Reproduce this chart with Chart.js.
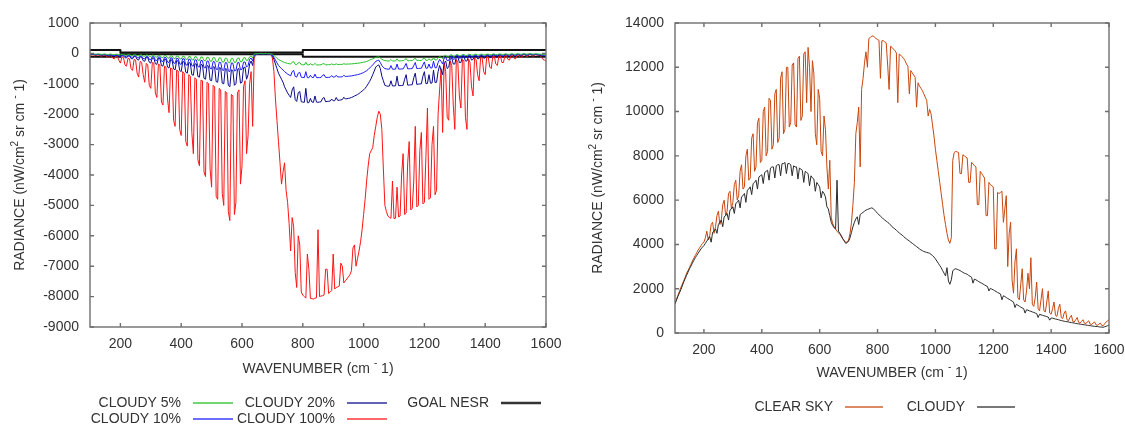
<!DOCTYPE html>
<html>
<head>
<meta charset="utf-8">
<script src="https://cdn.jsdelivr.net/npm/chart.js@4.4.1/dist/chart.umd.min.js"></script>
<style>
  html, body { margin: 0; padding: 0; background: #ffffff; }
  #wrap { position: relative; width: 1125px; height: 426px; overflow: hidden; background: #ffffff; }
  canvas { position: absolute; top: 0; }
  #diffChart { left: 0; }
  #skyChart { left: 560px; }
</style>
</head>
<body>
<div id="wrap">
  <canvas id="diffChart" width="575" height="426"></canvas>
  <canvas id="skyChart" width="565" height="426"></canvas>
</div>
<script>
// ---- spectral grid (cm^-1), 5 cm^-1 spacing ----
const wavenumbers = [
  100, 105, 110, 115, 120, 125, 130, 135, 140, 145,
  150, 155, 160, 165, 170, 175, 180, 185, 190, 195,
  200, 205, 210, 215, 220, 225, 230, 235, 240, 245,
  250, 255, 260, 265, 270, 275, 280, 285, 290, 295,
  300, 305, 310, 315, 320, 325, 330, 335, 340, 345,
  350, 355, 360, 365, 370, 375, 380, 385, 390, 395,
  400, 405, 410, 415, 420, 425, 430, 435, 440, 445,
  450, 455, 460, 465, 470, 475, 480, 485, 490, 495,
  500, 505, 510, 515, 520, 525, 530, 535, 540, 545,
  550, 555, 560, 565, 570, 575, 580, 585, 590, 595,
  600, 605, 610, 615, 620, 625, 630, 635, 640, 645,
  650, 655, 660, 665, 670, 675, 680, 685, 690, 695,
  700, 705, 710, 715, 720, 725, 730, 735, 740, 745,
  750, 755, 760, 765, 770, 775, 780, 785, 790, 795,
  800, 805, 810, 815, 820, 825, 830, 835, 840, 845,
  850, 855, 860, 865, 870, 875, 880, 885, 890, 895,
  900, 905, 910, 915, 920, 925, 930, 935, 940, 945,
  950, 955, 960, 965, 970, 975, 980, 985, 990, 995,
  1000, 1005, 1010, 1015, 1020, 1025, 1030, 1035, 1040, 1045,
  1050, 1055, 1060, 1065, 1070, 1075, 1080, 1085, 1090, 1095,
  1100, 1105, 1110, 1115, 1120, 1125, 1130, 1135, 1140, 1145,
  1150, 1155, 1160, 1165, 1170, 1175, 1180, 1185, 1190, 1195,
  1200, 1205, 1210, 1215, 1220, 1225, 1230, 1235, 1240, 1245,
  1250, 1255, 1260, 1265, 1270, 1275, 1280, 1285, 1290, 1295,
  1300, 1305, 1310, 1315, 1320, 1325, 1330, 1335, 1340, 1345,
  1350, 1355, 1360, 1365, 1370, 1375, 1380, 1385, 1390, 1395,
  1400, 1405, 1410, 1415, 1420, 1425, 1430, 1435, 1440, 1445,
  1450, 1455, 1460, 1465, 1470, 1475, 1480, 1485, 1490, 1495,
  1500, 1505, 1510, 1515, 1520, 1525, 1530, 1535, 1540, 1545,
  1550, 1555, 1560, 1565, 1570, 1575, 1580, 1585, 1590, 1595,
  1600
];

// ---- radiance differences, cloudy minus clear (nW/cm2 sr cm-1) ----
const cloudy5 = [
  -20, -15, -15, -22, -25, -18, -20, -28, -30, -22,
  -20, -32, -35, -22, -25, -38, -40, -28, -30, -45,
  -50, -32, -35, -55, -60, -38, -40, -65, -70, -42,
  -45, -75, -80, -48, -50, -88, -95, -52, -55, -100,
  -110, -58, -60, -118, -125, -62, -65, -132, -140, -70,
  -75, -148, -155, -78, -80, -162, -170, -85, -90, -178,
  -185, -92, -95, -192, -200, -100, -105, -208, -215, -108,
  -110, -222, -230, -115, -120, -238, -245, -125, -130, -252,
  -260, -135, -140, -268, -275, -145, -150, -282, -290, -155,
  -160, -300, -310, -162, -165, -300, -290, -155, -150, -280,
  -270, -145, -140, -240, -210, -110, -80, -150, -20, -12,
  -10, -8, -5, -8, -10, -8, -5, -8, -10, -15,
  -30, -70, -110, -160, -200, -230, -250, -280, -300, -315,
  -330, -340, -350, -290, -270, -360, -370, -310, -300, -372,
  -375, -378, -290, -380, -380, -340, -375, -376, -330, -378,
  -380, -378, -375, -345, -340, -375, -375, -372, -370, -345,
  -370, -368, -345, -366, -365, -362, -360, -340, -355, -352,
  -350, -348, -345, -340, -335, -330, -325, -318, -310, -300,
  -290, -280, -265, -245, -220, -200, -180, -155, -130, -120,
  -110, -150, -190, -220, -240, -245, -250, -248, -200, -250,
  -250, -248, -180, -246, -245, -243, -240, -205, -170, -242,
  -240, -238, -235, -195, -160, -233, -230, -231, -230, -185,
  -150, -228, -225, -180, -220, -218, -140, -216, -215, -150,
  -100, -130, -170, -80, -60, -120, -110, -50, -45, -100,
  -90, -42, -40, -80, -75, -38, -35, -70, -65, -32,
  -30, -60, -55, -30, -30, -52, -50, -28, -25, -48,
  -45, -25, -25, -42, -40, -22, -20, -38, -35, -20,
  -20, -32, -30, -20, -20, -32, -30, -18, -15, -28,
  -25, -15, -15, -26, -25, -15, -15, -22, -20, -15,
  -15, -20, -20, -16, -15, -22, -25, -28, -30, -32,
  -35
];
const cloudy10 = [
  -30, -25, -25, -35, -40, -30, -30, -40, -45, -35,
  -35, -50, -60, -40, -40, -65, -70, -45, -50, -80,
  -90, -55, -60, -100, -110, -65, -70, -120, -130, -75,
  -80, -140, -150, -85, -90, -165, -180, -95, -100, -195,
  -210, -105, -110, -225, -240, -115, -120, -255, -270, -130,
  -140, -285, -300, -145, -150, -315, -330, -160, -170, -345,
  -360, -175, -180, -375, -390, -190, -200, -405, -420, -210,
  -220, -435, -450, -230, -240, -465, -480, -250, -260, -495,
  -510, -270, -280, -520, -530, -290, -300, -545, -560, -305,
  -310, -580, -600, -315, -320, -580, -560, -310, -300, -540,
  -520, -290, -280, -450, -400, -200, -150, -250, -40, -20,
  -15, -10, -10, -12, -15, -12, -10, -12, -15, -25,
  -60, -130, -220, -310, -400, -450, -500, -550, -600, -640,
  -680, -710, -740, -600, -560, -760, -780, -650, -620, -785,
  -790, -795, -600, -800, -800, -720, -790, -795, -680, -795,
  -800, -795, -790, -720, -700, -790, -790, -788, -785, -730,
  -780, -778, -720, -776, -775, -772, -770, -720, -760, -755,
  -750, -745, -740, -730, -720, -710, -700, -685, -670, -650,
  -630, -600, -570, -530, -480, -430, -380, -320, -260, -240,
  -220, -300, -400, -460, -500, -510, -520, -518, -400, -520,
  -520, -518, -350, -515, -515, -512, -510, -420, -330, -508,
  -505, -502, -500, -400, -300, -498, -495, -492, -490, -380,
  -280, -488, -485, -350, -480, -478, -260, -472, -470, -300,
  -200, -260, -350, -150, -120, -240, -230, -100, -80, -200,
  -180, -70, -65, -160, -150, -65, -60, -140, -130, -55,
  -55, -120, -110, -50, -50, -105, -100, -45, -45, -95,
  -90, -40, -40, -85, -80, -35, -35, -75, -70, -35,
  -35, -65, -60, -30, -30, -58, -55, -30, -30, -52,
  -50, -30, -30, -48, -45, -25, -25, -42, -40, -25,
  -25, -35, -35, -30, -30, -38, -40, -45, -50, -55,
  -60
];
const cloudy20 = [
  -40, -35, -30, -45, -50, -40, -40, -55, -60, -45,
  -50, -70, -80, -55, -60, -85, -90, -65, -70, -100,
  -120, -75, -80, -140, -150, -85, -90, -170, -180, -95,
  -100, -200, -220, -110, -120, -240, -260, -130, -140, -290,
  -320, -150, -150, -340, -360, -160, -170, -400, -420, -190,
  -200, -450, -480, -210, -220, -510, -540, -240, -250, -560,
  -600, -270, -280, -620, -650, -300, -320, -700, -720, -340,
  -350, -760, -780, -360, -380, -820, -850, -400, -420, -880,
  -900, -440, -450, -930, -950, -470, -480, -980, -1000, -500,
  -520, -1050, -1100, -540, -560, -1050, -1000, -520, -500, -980,
  -950, -470, -450, -850, -700, -350, -250, -400, -60, -30,
  -20, -15, -10, -15, -20, -15, -10, -15, -20, -30,
  -80, -200, -350, -500, -650, -750, -850, -950, -1100, -1200,
  -1300, -1380, -1450, -1200, -1100, -1520, -1580, -1300, -1250, -1590,
  -1600, -1610, -1150, -1620, -1620, -1480, -1600, -1610, -1400, -1600,
  -1610, -1600, -1590, -1480, -1450, -1590, -1580, -1575, -1570, -1500,
  -1560, -1555, -1450, -1545, -1540, -1530, -1520, -1440, -1500, -1490,
  -1480, -1470, -1450, -1430, -1400, -1380, -1350, -1320, -1280, -1240,
  -1200, -1150, -1080, -1000, -920, -820, -700, -580, -450, -400,
  -380, -500, -750, -900, -1050, -1070, -1080, -1075, -900, -1070,
  -1070, -1065, -750, -1060, -1060, -1055, -1050, -850, -700, -1045,
  -1040, -1035, -1030, -800, -650, -1020, -1010, -1005, -1000, -750,
  -600, -995, -990, -700, -980, -975, -550, -960, -950, -600,
  -400, -550, -700, -300, -250, -500, -450, -180, -150, -350,
  -350, -120, -110, -300, -300, -110, -100, -250, -250, -90,
  -90, -220, -200, -80, -80, -180, -170, -70, -70, -160,
  -150, -60, -60, -140, -130, -55, -50, -120, -120, -50,
  -50, -110, -100, -45, -40, -95, -90, -40, -40, -85,
  -80, -40, -40, -75, -70, -30, -30, -65, -60, -30,
  -30, -55, -50, -35, -40, -55, -60, -70, -80, -85,
  -90
];
const cloudy100 = [
  -50, -60, -40, -80, -70, -50, -60, -90, -80, -60,
  -60, -110, -130, -70, -80, -160, -180, -90, -100, -220,
  -320, -120, -130, -380, -420, -160, -180, -500, -560, -200,
  -220, -650, -780, -260, -300, -700, -950, -330, -380, -1050,
  -1150, -300, -320, -1300, -1450, -350, -380, -1600, -1700, -420,
  -450, -1500, -1950, -480, -500, -2200, -2400, -550, -580, -2500,
  -2700, -600, -650, -2900, -3050, -700, -750, -2600, -3300, -800,
  -850, -3500, -3700, -880, -900, -3900, -4050, -950, -1000, -3800,
  -4400, -1050, -1100, -4700, -4800, -1150, -1200, -4600, -5000, -1250,
  -1300, -5200, -5500, -1350, -1400, -5300, -4900, -1300, -1200, -4300,
  -3700, -1100, -900, -3300, -2700, -1000, -600, -2400, -150, -60,
  -20, -10, 0, 10, -10, 0, 0, -10, -20, -30,
  -150, -600, -1500, -2200, -2900, -3600, -4300, -3900, -3600, -4500,
  -4900, -5600, -6500, -5400, -5700, -7200, -7700, -6000, -6300, -7850,
  -7950, -8000, -8050, -6600, -7100, -8060, -8070, -8080, -8050, -8040,
  -5800, -8000, -7980, -7970, -7950, -7100, -7100, -7900, -7850, -7800,
  -6600, -7750, -7700, -7680, -7650, -6900, -7000, -7550, -7480, -7420,
  -7350, -7280, -7150, -6400, -6300, -7000, -6750, -6500, -6200, -5800,
  -5300, -4800, -4200, -3700, -3300, -3200, -3100, -2700, -2400, -2100,
  -1900, -2000, -2500, -3800, -5000, -5200, -5350, -5400, -5420, -4200,
  -5440, -5420, -4400, -5380, -5350, -4000, -3300, -5300, -5250, -3600,
  -2900, -5150, -5100, -4200, -2400, -5050, -5000, -3200, -2600, -4950,
  -4900, -3400, -1800, -4800, -4750, -3000, -2400, -4650, -4500, -2000,
  -1200, -500, -2600, -300, -600, -2100, -2200, -250, -400, -1700,
  -2500, -200, -300, -1400, -1800, -200, -250, -2100, -2500, -180,
  -300, -1100, -1400, -150, -200, -700, -900, -120, -150, -600,
  -700, -100, -120, -450, -500, -90, -100, -350, -400, -80,
  -80, -300, -300, -70, -70, -200, -220, -60, -60, -160,
  -180, -50, -50, -130, -120, -40, -40, -100, -100, -40,
  -40, -90, -80, -40, -50, -60, -60, -120, -200, -220,
  -250
];

// ---- instrument noise goal, drawn as a +/- envelope ----
const nesrWavenumbers = [100, 200, 200, 800, 800, 1600];
const goalNesr = [110, 110, 30, 30, 110, 110];

// ---- absolute radiance (nW/cm2 sr cm-1) ----
const clearSky = [
  1350, 1520, 1700, 1870, 2050, 2200, 2350, 2520, 2700, 2820,
  2950, 3100, 3250, 3380, 3500, 3620, 3750, 3850, 3950, 4050,
  4100, 4300, 4600, 4200, 4400, 4900, 5000, 4500, 4800, 5300,
  5500, 4900, 5100, 5800, 6000, 5300, 5500, 6300, 6400, 5600,
  5900, 6700, 6900, 6000, 6200, 7300, 7600, 6500, 6600, 8000,
  8300, 6900, 7000, 8800, 9000, 7300, 7500, 9500, 9700, 7700,
  7800, 10000, 10200, 8000, 8200, 10600, 10500, 8300, 8500, 10800,
  11000, 8600, 8800, 11500, 11800, 9000, 9200, 12000, 12000, 9300,
  9500, 12100, 12200, 9400, 9300, 12400, 12500, 9600, 9800, 12600,
  12700, 10400, 12900, 12000, 10000, 12300, 11700, 9000, 8500, 11000,
  10600, 8200, 8000, 9800, 9200, 7500, 6500, 7800, 5200, 4950,
  4800, 4700, 4600, 4520, 4450, 4350, 4250, 4180, 4100, 4100,
  4200, 4500, 5000, 5800, 6800, 9000, 9500, 10200, 7500, 11000,
  11500, 12200, 12700, 12000, 13300, 13350, 13400, 13420, 13350, 13300,
  13250, 13220, 11500, 13200, 13200, 13150, 13100, 12100, 11000, 12950,
  12900, 12820, 12750, 12650, 10400, 12600, 12550, 12480, 12400, 12300,
  12150, 12050, 10800, 11850, 11750, 11650, 11550, 10200, 11300, 11150,
  11050, 10950, 10800, 10650, 10500, 9800, 10100, 9900, 9400, 8900,
  8300, 7800, 7300, 6800, 6300, 5800, 5300, 4900, 4500, 4200,
  4050, 4300, 7800, 8150, 8200, 8180, 8150, 7200, 7200, 8050,
  8000, 7950, 7900, 6800, 6800, 7700, 7650, 7550, 7500, 5800,
  5800, 7300, 7200, 7100, 7000, 5300, 5300, 6800, 6700, 6650,
  6600, 3800, 3800, 6350, 6300, 6350, 6400, 5000, 5600, 6200,
  3000, 4500, 5000, 2400, 1800, 3200, 3800, 1600, 1500, 2200,
  2900, 1500, 1400, 1900, 2700, 2000, 3400, 1300, 1200, 1600,
  2300, 1100, 1000, 1500, 2000, 1000, 950, 1400, 1900, 900,
  850, 1100, 1400, 800, 750, 1100, 1300, 700, 650, 900,
  1000, 600, 550, 700, 800, 520, 500, 600, 700, 480,
  450, 520, 600, 440, 420, 500, 550, 400, 380, 450,
  500, 370, 350, 400, 450, 340, 330, 420, 500, 550,
  600
];
const cloudySky = [
  1300, 1480, 1650, 1800, 1950, 2120, 2300, 2450, 2600, 2750,
  2900, 3020, 3150, 3280, 3400, 3500, 3600, 3700, 3800, 3880,
  3950, 4050, 4150, 4250, 4350, 4100, 4550, 4600, 4700, 4500,
  4900, 5000, 5100, 4800, 5250, 5300, 5400, 5100, 5550, 5600,
  5700, 5400, 5850, 5900, 6000, 5650, 6150, 6200, 6300, 5900,
  6450, 6500, 6600, 6250, 6750, 6800, 6900, 6500, 7050, 7100,
  7150, 6750, 7250, 7300, 7350, 6900, 7450, 7500, 7500, 7000,
  7550, 7600, 7600, 7100, 7650, 7650, 7700, 7200, 7650, 7650,
  7600, 7100, 7550, 7500, 7500, 6950, 7450, 7400, 7350, 6800,
  7300, 7250, 7200, 6650, 7100, 7000, 6950, 6400, 6800, 6700,
  6600, 6100, 6400, 6300, 6150, 5700, 5600, 5300, 5000, 4850,
  4750, 4700, 6900, 4600, 4500, 4400, 4250, 4150, 4050, 4080,
  4150, 4300, 4550, 4800, 5000, 5150, 5250, 4900, 5350, 5400,
  5450, 5500, 5550, 5580, 5600, 5630, 5650, 5620, 5550, 5480,
  5400, 5340, 5280, 5220, 5150, 5100, 5050, 5000, 4950, 4880,
  4800, 4750, 4700, 4640, 4580, 4520, 4470, 4420, 4360, 4300,
  4250, 4200, 4150, 4100, 4050, 4000, 3950, 3900, 3850, 3800,
  3750, 3720, 3680, 3660, 3640, 3620, 3600, 3550, 3500, 3430,
  3350, 3250, 3150, 3050, 2950, 2820, 2700, 2580, 2950, 2350,
  2200, 2400, 2800, 2880, 2900, 2880, 2850, 2820, 2780, 2740,
  2700, 2680, 2650, 2600, 2560, 2520, 2250, 2440, 2400, 2360,
  2320, 2280, 2250, 2210, 2170, 2130, 2100, 1900, 2020, 1980,
  1950, 1910, 1870, 1830, 1800, 1760, 1500, 1680, 1650, 1600,
  1560, 1520, 1480, 1440, 1400, 1150, 1300, 1250, 1210, 1170,
  1130, 1100, 900, 1050, 1030, 1000, 980, 950, 930, 900,
  880, 700, 840, 820, 800, 780, 760, 740, 720, 580,
  680, 670, 650, 630, 620, 600, 580, 560, 550, 530,
  520, 510, 500, 480, 470, 460, 450, 430, 420, 410,
  400, 390, 380, 370, 360, 350, 340, 330, 320, 310,
  300, 295, 290, 280, 270, 265, 260, 280, 300, 330,
  360
];

// ---- axis tick values ----
const xTicks = [200, 400, 600, 800, 1000, 1200, 1400, 1600];
const diffTicks = [-9000, -8000, -7000, -6000, -5000, -4000, -3000, -2000, -1000, 0, 1000];
const skyTicks = [0, 2000, 4000, 6000, 8000, 10000, 12000, 14000];

// ---- axis titles, with superscript pieces ----
const radianceTitle = [
  { text: 'RADIANCE (nW/cm' }, { text: '2', sup: true }, { text: ' sr cm ' },
  { text: '-', sup: true }, { text: ' 1)' }
];
const wavenumberTitle = [
  { text: 'WAVENUMBER (cm ' }, { text: '-', sup: true }, { text: ' 1)' }
];

const FONT = '"Liberation Sans", Arial, Helvetica, sans-serif';
const INK = '#333333';
Chart.defaults.font.family = FONT;
Chart.defaults.font.size = 14;
Chart.defaults.color = INK;

const toPoints = (xs, ys) => xs.map((x, i) => ({ x: x, y: ys[i] }));

function drawRich(ctx, parts, cx, cy, size) {
  const small = Math.round(size * 0.72);
  ctx.textBaseline = 'middle';
  ctx.textAlign = 'left';
  ctx.fillStyle = INK;
  let total = 0;
  const widths = parts.map(p => {
    ctx.font = (p.sup ? small : size) + 'px ' + FONT;
    const w = ctx.measureText(p.text).width;
    total += w;
    return w;
  });
  let x = cx - total / 2;
  parts.forEach((p, i) => {
    ctx.font = (p.sup ? small : size) + 'px ' + FONT;
    ctx.fillText(p.text, x, p.sup ? cy - size * 0.38 : cy);
    x += widths[i];
  });
}

// plot frame with inward ticks on all four sides
const framePlugin = {
  id: 'frame',
  afterDatasetsDraw(chart, args, opts) {
    const { ctx, chartArea: a, scales } = chart;
    ctx.save();
    ctx.strokeStyle = opts.color;
    ctx.lineWidth = opts.width;
    ctx.strokeRect(a.left, a.top, a.right - a.left, a.bottom - a.top);
    const len = opts.tickLength;
    ctx.beginPath();
    scales.x.ticks.forEach(t => {
      const px = scales.x.getPixelForValue(t.value);
      ctx.moveTo(px, a.bottom); ctx.lineTo(px, a.bottom - len);
      ctx.moveTo(px, a.top); ctx.lineTo(px, a.top + len);
    });
    scales.y.ticks.forEach(t => {
      const py = scales.y.getPixelForValue(t.value);
      ctx.moveTo(a.left, py); ctx.lineTo(a.left + len, py);
      ctx.moveTo(a.right, py); ctx.lineTo(a.right - len, py);
    });
    ctx.stroke();
    ctx.restore();
  }
};

// axis titles
const titlesPlugin = {
  id: 'titles',
  afterDraw(chart, args, opts) {
    const { ctx, chartArea: a } = chart;
    ctx.save();
    drawRich(ctx, opts.x, (a.left + a.right) / 2, opts.xTitleY, 14);
    ctx.translate(opts.yTitleX, (a.top + a.bottom) / 2);
    ctx.rotate(-Math.PI / 2);
    drawRich(ctx, opts.y, 0, 0, 14);
    ctx.restore();
  }
};

// key: label text right-aligned, followed by a line sample
const keyPlugin = {
  id: 'key',
  afterDraw(chart, args, opts) {
    const { ctx } = chart;
    ctx.save();
    ctx.font = '14px ' + FONT;
    ctx.textAlign = 'right';
    ctx.textBaseline = 'middle';
    opts.items.forEach(it => {
      const ds = chart.data.datasets[it.dataset];
      ctx.fillStyle = INK;
      ctx.fillText(ds.label, it.x, it.y);
      ctx.strokeStyle = ds.borderColor;
      ctx.lineWidth = ds.borderWidth + 0.6;
      ctx.globalAlpha = 0.85;
      ctx.beginPath();
      ctx.moveTo(it.x + opts.gap, it.y);
      ctx.lineTo(it.x + opts.gap + opts.length, it.y);
      ctx.stroke();
      ctx.globalAlpha = 1;
    });
    ctx.restore();
  }
};

function axes(yMin, yMax, yTicks, yWidth, xHeight) {
  return {
    x: {
      type: 'linear', min: 100, max: 1600,
      grid: { display: false, drawTicks: false }, border: { display: false },
      ticks: { padding: 9, autoSkip: false, maxRotation: 0, callback: v => String(v) },
      afterBuildTicks: s => { s.ticks = xTicks.map(v => ({ value: v })); },
      afterFit: s => { s.height = xHeight; s.paddingLeft = 0; s.paddingRight = 0; }
    },
    y: {
      type: 'linear', min: yMin, max: yMax,
      grid: { display: false, drawTicks: false }, border: { display: false },
      ticks: { padding: 11, autoSkip: false, callback: v => String(v) },
      afterBuildTicks: s => { s.ticks = yTicks.map(v => ({ value: v })); },
      afterFit: s => { s.width = yWidth; s.paddingTop = 0; s.paddingBottom = 0; }
    }
  };
}

const lineDefaults = { pointRadius: 0, tension: 0, borderJoinStyle: 'round', fill: false };

new Chart(document.getElementById('diffChart'), {
  type: 'line',
  data: {
    datasets: [
      { ...lineDefaults, label: 'CLOUDY 5%', data: toPoints(wavenumbers, cloudy5), borderColor: '#22c022', borderWidth: 1 },
      { ...lineDefaults, label: 'CLOUDY 10%', data: toPoints(wavenumbers, cloudy10), borderColor: '#1a1aff', borderWidth: 1 },
      { ...lineDefaults, label: 'CLOUDY 20%', data: toPoints(wavenumbers, cloudy20), borderColor: '#0a0a8a', borderWidth: 1 },
      { ...lineDefaults, label: 'CLOUDY 100%', data: toPoints(wavenumbers, cloudy100), borderColor: '#ff1414', borderWidth: 1 },
      { ...lineDefaults, label: 'GOAL NESR', data: toPoints(nesrWavenumbers, goalNesr), borderColor: '#111111', borderWidth: 2 },
      { ...lineDefaults, label: 'GOAL NESR', data: toPoints(nesrWavenumbers, goalNesr.map(v => -v)), borderColor: '#111111', borderWidth: 2 }
    ]
  },
  options: {
    responsive: false, animation: false, devicePixelRatio: 1,
    layout: { padding: { top: 23, right: 29, left: 0, bottom: 0 } },
    scales: axes(-9000, 1000, diffTicks, 90, 99),
    plugins: {
      legend: { display: false }, tooltip: { enabled: false },
      frame: { color: '#6e6e6e', width: 1.4, tickLength: 4 },
      titles: { x: wavenumberTitle, y: radianceTitle, xTitleY: 369, yTitleX: 20.5 },
      key: {
        gap: 12, length: 40,
        items: [
          { dataset: 0, x: 181, y: 403 },
          { dataset: 1, x: 181, y: 419 },
          { dataset: 2, x: 335, y: 403 },
          { dataset: 3, x: 335, y: 419 },
          { dataset: 4, x: 489, y: 403 }
        ]
      }
    }
  },
  plugins: [framePlugin, titlesPlugin, keyPlugin]
});

new Chart(document.getElementById('skyChart'), {
  type: 'line',
  data: {
    datasets: [
      { ...lineDefaults, label: 'CLEAR SKY', data: toPoints(wavenumbers, clearSky), borderColor: '#c8460c', borderWidth: 1, order: 1 },
      { ...lineDefaults, label: 'CLOUDY', data: toPoints(wavenumbers, cloudySky), borderColor: '#2a2a2a', borderWidth: 1, order: 0 }
    ]
  },
  options: {
    responsive: false, animation: false, devicePixelRatio: 1,
    layout: { padding: { top: 23, right: 16, left: 0, bottom: 0 } },
    scales: axes(0, 14000, skyTicks, 115, 93),
    plugins: {
      legend: { display: false }, tooltip: { enabled: false },
      frame: { color: '#6e6e6e', width: 1.4, tickLength: 4 },
      titles: { x: wavenumberTitle, y: radianceTitle, xTitleY: 373, yTitleX: 38.5 },
      key: {
        gap: 12, length: 38,
        items: [
          { dataset: 0, x: 273, y: 407 },
          { dataset: 1, x: 405, y: 407 }
        ]
      }
    }
  },
  plugins: [framePlugin, titlesPlugin, keyPlugin]
});
</script>
</body>
</html>
